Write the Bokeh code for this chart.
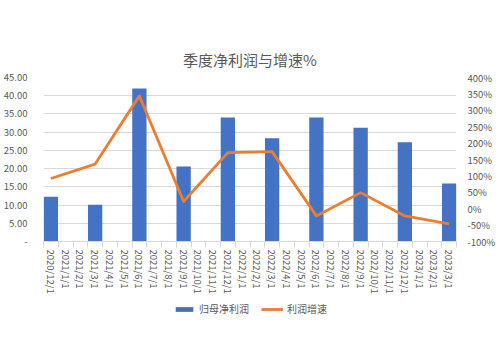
from bokeh.plotting import figure
from bokeh.models import (Range1d, LinearAxis, FixedTicker, SingleIntervalTicker,
                          PrintfTickFormatter, NumeralTickFormatter, Legend, LegendItem)
from bokeh.layouts import column
from bokeh.embed import file_html
from bokeh.resources import INLINE

categories = ["2020/12/1", "2021/1/1", "2021/2/1", "2021/3/1", "2021/4/1", "2021/5/1",
              "2021/6/1", "2021/7/1", "2021/8/1", "2021/9/1", "2021/10/1", "2021/11/1",
              "2021/12/1", "2022/1/1", "2022/2/1", "2022/3/1", "2022/4/1", "2022/5/1",
              "2022/6/1", "2022/7/1", "2022/8/1", "2022/9/1", "2022/10/1", "2022/11/1",
              "2022/12/1", "2023/1/1", "2023/2/1", "2023/3/1"]
quarters = ["2020/12/1", "2021/3/1", "2021/6/1", "2021/9/1", "2021/12/1",
            "2022/3/1", "2022/6/1", "2022/9/1", "2022/12/1", "2023/3/1"]
profit = [12.3, 10.1, 42.0, 20.6, 34.0, 28.3, 34.0, 31.2, 27.2, 15.9]
growth = [92, 136, 344, 22, 171, 174, -22, 49, -22, -46]

title_text = "季度净利润与增速%"
bar_name = "归母净利润"
line_name = "利润增速"

FONT = "Noto Sans CJK SC"
GRAY = "#595959"
GRID = "#D9D9D9"
BLUE = "#4472C4"
ORANGE = "#ED7D31"

xpos = [categories.index(q) for q in quarters]
n = len(categories)

p = figure(frame_width=413, frame_height=164, output_backend="svg", toolbar_location=None,
           x_range=Range1d(-0.5, n - 0.5), y_range=Range1d(0, 45),
           min_border_left=36, min_border_right=30, min_border_top=77, min_border_bottom=8)
p.outline_line_color = None
p.background_fill_color = "white"
p.border_fill_color = "white"

p.title.text = title_text
p.title.align = "center"
p.title.text_font = FONT
p.title.text_font_size = "15px"
p.title.text_font_style = "normal"
p.title.text_color = GRAY
p.title.standoff = 15

p.extra_y_ranges = {"pct": Range1d(-100, 400)}

bars = p.vbar(x=xpos, top=profit, width=0.97, fill_color=BLUE, line_color=None)
line = p.line(x=xpos, y=growth, y_range_name="pct", line_color=ORANGE,
              line_width=2.8, line_join="round")

# x axis
xa = p.xaxis[0]
xa.ticker = FixedTicker(ticks=list(range(n)), minor_ticks=[i - 0.5 for i in range(n + 1)])
xa.major_label_overrides = {i: c for i, c in enumerate(categories)}
xa.major_label_orientation = "vertical"
xa.major_label_text_font = FONT
xa.major_label_text_font_size = "9.5px"
xa.major_label_text_color = GRAY
xa.major_label_standoff = 2
xa.major_tick_line_color = None
xa.minor_tick_line_color = GRID
xa.minor_tick_out = 6
xa.minor_tick_in = 0
xa.axis_line_color = GRID

# left axis
ya = p.yaxis[0]
ya.ticker = SingleIntervalTicker(interval=5)
ya.formatter = NumeralTickFormatter(format="0.00")
ya.major_label_overrides = {0: "-"}
ya.major_label_text_font = FONT
ya.major_label_text_font_size = "9.5px"
ya.major_label_text_color = GRAY
ya.major_label_standoff = 10
ya.axis_line_color = None
ya.major_tick_line_color = None
ya.minor_tick_line_color = None

# right axis
ra = LinearAxis(y_range_name="pct", ticker=SingleIntervalTicker(interval=50),
                formatter=PrintfTickFormatter(format="%d%%"))
ra.major_label_text_font = FONT
ra.major_label_text_font_size = "9.5px"
ra.major_label_text_color = GRAY
ra.major_label_standoff = 5
ra.axis_line_color = None
ra.major_tick_line_color = None
ra.minor_tick_line_color = None
p.add_layout(ra, "right")

p.xgrid.grid_line_color = None
p.ygrid.grid_line_color = GRID
p.ygrid.ticker = SingleIntervalTicker(interval=5)

# legend in its own strip below the chart (its renderers sit outside its view)
lp = figure(width=484, height=20, output_backend="svg", toolbar_location=None,
            x_range=Range1d(0, 1), y_range=Range1d(0, 1), min_border=0)
lp.axis.visible = False
lp.grid.grid_line_color = None
lp.outline_line_color = None
lb = lp.vbar(x=[-10], top=[-10], bottom=[-11], width=1, fill_color=BLUE, line_color=None)
ll = lp.line(x=[-10, -9], y=[-10, -10], line_color=ORANGE, line_width=2.8)
legend = Legend(items=[LegendItem(label=bar_name, renderers=[lb]),
                       LegendItem(label=line_name, renderers=[ll])],
                orientation="horizontal", location=(130, 0))
legend.label_text_font = FONT
legend.label_text_font_size = "10px"
legend.label_text_color = GRAY
legend.glyph_width = 22
legend.glyph_height = 6
legend.label_height = 12
legend.label_standoff = 4
legend.spacing = 12
legend.padding = 4
legend.margin = 0
legend.border_line_color = None
legend.background_fill_alpha = 0
lp.add_layout(legend)

layout = column(p, lp, spacing=0)
open("out.html", "w").write(file_html(layout, INLINE))
